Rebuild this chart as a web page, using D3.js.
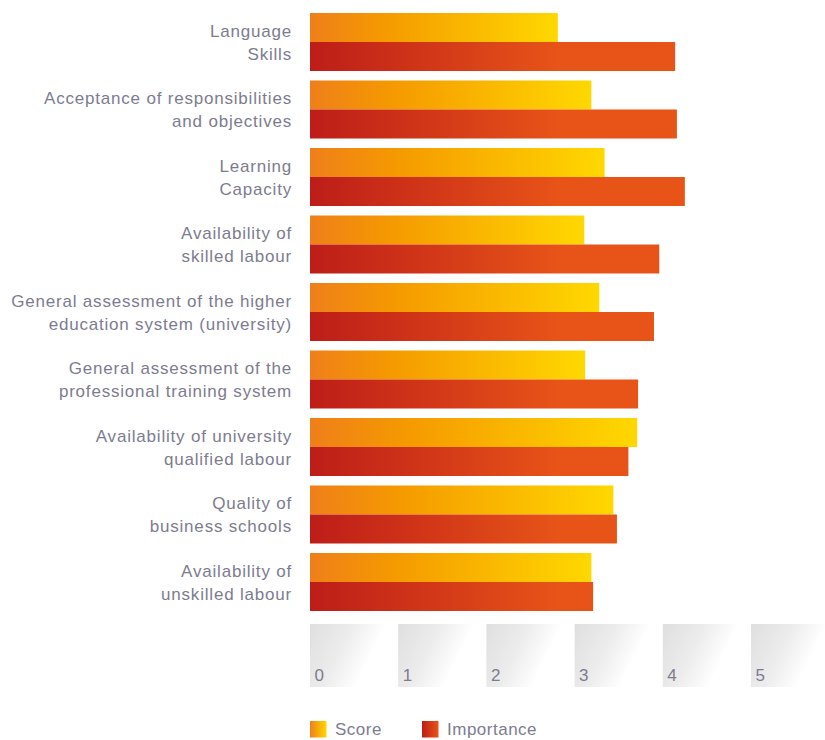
<!DOCTYPE html>
<html>
<head>
<meta charset="utf-8">
<script src="https://cdn.jsdelivr.net/npm/d3@7"></script>
<style>
  html, body { margin: 0; padding: 0; background: #fff; }
  svg { display: block; }
  text { font-family: "Liberation Sans", Arial, Helvetica, sans-serif; fill: #7d7c8f; }
</style>
</head>
<body>
<svg id="chart" width="825" height="740"></svg>
<script>
// Factor labels (two lines each)
const categories = [
  ["Language", "Skills"],
  ["Acceptance of responsibilities", "and objectives"],
  ["Learning", "Capacity"],
  ["Availability of", "skilled labour"],
  ["General assessment of the higher", "education system (university)"],
  ["General assessment of the", "professional training system"],
  ["Availability of university", "qualified labour"],
  ["Quality of", "business schools"],
  ["Availability of", "unskilled labour"]
];
const scoreValues      = [2.81, 3.19, 3.34, 3.11, 3.28, 3.12, 3.71, 3.44, 3.19];
const importanceValues = [4.14, 4.16, 4.25, 3.96, 3.90, 3.72, 3.61, 3.48, 3.21];
const seriesNames = ["Score", "Importance"];
const tickValues = [0, 1, 2, 3, 4, 5];

const svg = d3.select("#chart");
const defs = svg.append("defs");

// Score: orange to yellow along each bar
const gScore = defs.append("linearGradient").attr("id", "gradScore")
  .attr("x1", "0%").attr("x2", "100%").attr("y1", "0%").attr("y2", "0%");
gScore.append("stop").attr("offset", "0%").attr("stop-color", "#ef7f1a");
gScore.append("stop").attr("offset", "30%").attr("stop-color", "#f59a00");
gScore.append("stop").attr("offset", "100%").attr("stop-color", "#ffd800");

const x = d3.scaleLinear().domain([0, 5]).range([310, 751]);

// Importance: deep red to orange, fixed along the axis
const gImp = defs.append("linearGradient").attr("id", "gradImp")
  .attr("gradientUnits", "userSpaceOnUse")
  .attr("x1", x(0)).attr("x2", x(2.85)).attr("y1", 0).attr("y2", 0);
gImp.append("stop").attr("offset", "0%").attr("stop-color", "#bd1d18");
gImp.append("stop").attr("offset", "100%").attr("stop-color", "#e85418");

// Tick tiles: grey fading to white along a diagonal (tile-local coordinates)
const gTile = defs.append("linearGradient").attr("id", "gradTile")
  .attr("gradientUnits", "userSpaceOnUse")
  .attr("x1", 0).attr("y1", 0).attr("x2", 62).attr("y2", 30);
gTile.append("stop").attr("offset", "0%").attr("stop-color", "#dfdfdf");
gTile.append("stop").attr("offset", "55%").attr("stop-color", "#ececec");
gTile.append("stop").attr("offset", "100%").attr("stop-color", "#ffffff");

// Legend swatches
const gLegS = defs.append("linearGradient").attr("id", "gradLegScore")
  .attr("x1", "0%").attr("x2", "100%");
gLegS.append("stop").attr("offset", "0%").attr("stop-color", "#ef7f1a");
gLegS.append("stop").attr("offset", "100%").attr("stop-color", "#ffd800");
const gLegI = defs.append("linearGradient").attr("id", "gradLegImp")
  .attr("x1", "0%").attr("x2", "100%");
gLegI.append("stop").attr("offset", "0%").attr("stop-color", "#bd1d18");
gLegI.append("stop").attr("offset", "100%").attr("stop-color", "#e85418");

const y = d3.scaleBand()
  .domain(d3.range(categories.length))
  .range([13, 611])
  .paddingInner(0.1407)
  .paddingOuter(0);

const ySub = d3.scaleBand().domain(seriesNames).range([0, y.bandwidth()]);

const rows = categories.map((c, i) => ({
  i, label: c,
  values: [
    { key: "Score", value: scoreValues[i] },
    { key: "Importance", value: importanceValues[i] }
  ]
}));

// Tick tiles under the plot
const tiles = svg.append("g").selectAll("g").data(tickValues).join("g")
  .attr("transform", d => `translate(${x(d)},624)`);
tiles.append("rect")
  .attr("width", d => Math.min(80, 825 - x(d)))
  .attr("height", 63)
  .attr("fill", "url(#gradTile)");
tiles.append("text")
  .attr("x", 4.5)
  .attr("y", 57)
  .attr("font-size", 17)
  .attr("letter-spacing", 0.5)
  .text(d => d);

// Bars
const groups = svg.append("g").selectAll("g").data(rows).join("g")
  .attr("transform", d => `translate(0,${y(d.i)})`);

groups.selectAll("rect").data(d => d.values).join("rect")
  .attr("x", x(0))
  .attr("y", d => ySub(d.key))
  .attr("width", d => x(d.value) - x(0))
  .attr("height", ySub.bandwidth())
  .attr("fill", d => d.key === "Score" ? "url(#gradScore)" : "url(#gradImp)");

// Category labels
groups.append("text")
  .attr("text-anchor", "end")
  .attr("font-size", 17)
  .attr("letter-spacing", 0.8)
  .selectAll("tspan").data(d => d.label).join("tspan")
  .attr("x", 292)
  .attr("y", (d, k) => y.bandwidth() / 2 - 5 + k * 23)
  .text(d => d);

// Legend
const legend = svg.append("g");
const legItems = [
  { name: "Score", fill: "url(#gradLegScore)", x: 310 },
  { name: "Importance", fill: "url(#gradLegImp)", x: 422 }
];
legend.selectAll("rect").data(legItems).join("rect")
  .attr("x", d => d.x).attr("y", 721)
  .attr("width", 16.5).attr("height", 16.5)
  .attr("fill", d => d.fill);
legend.selectAll("text").data(legItems).join("text")
  .attr("x", d => d.x + 25).attr("y", 735)
  .attr("font-size", 17)
  .attr("letter-spacing", 0.5)
  .text(d => d.name);
</script>
</body>
</html>
